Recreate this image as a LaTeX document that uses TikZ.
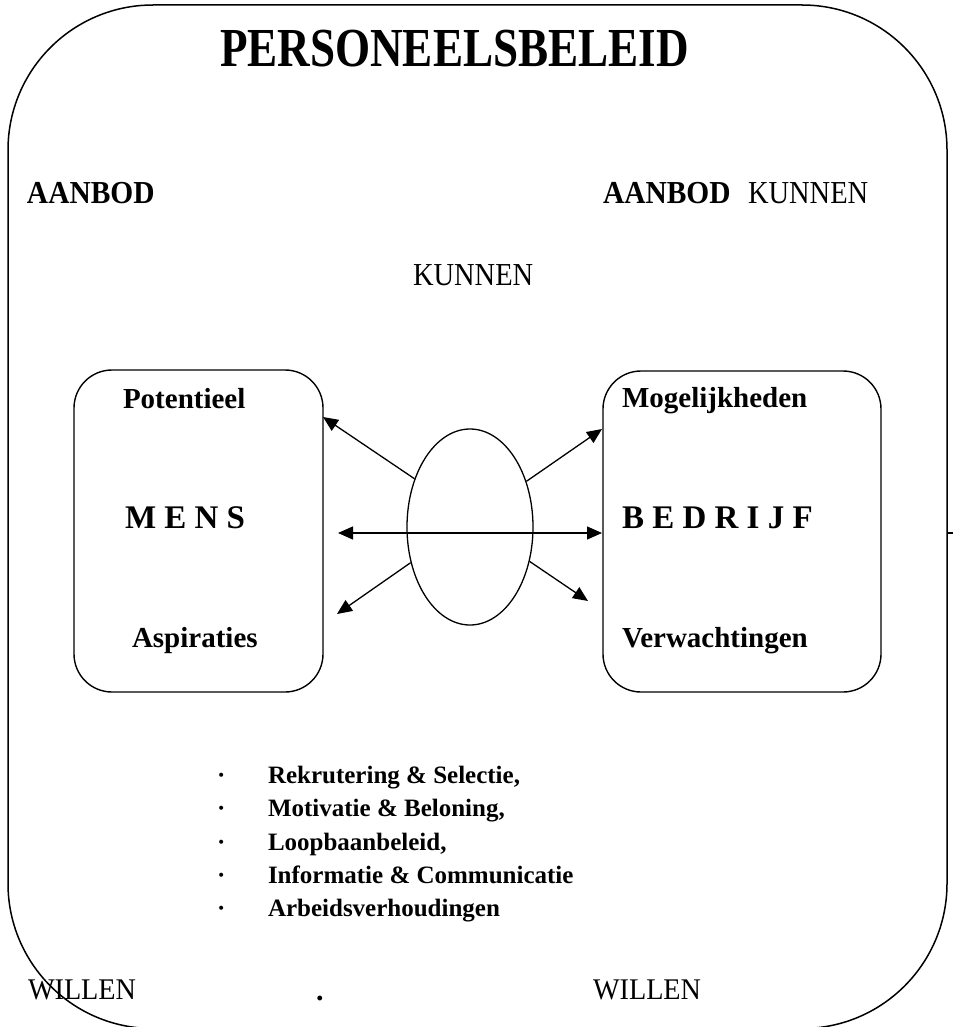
\documentclass[tikz,border=0pt]{standalone}
\usepackage{fontspec}
\setmainfont{Liberation Serif}
\usetikzlibrary{shapes.geometric,arrows.meta}
\newcommand{\fsz}[1]{\fontsize{#1}{#1}\selectfont}
\newcommand{\sx}[2]{\scalebox{#1}[1]{#2}}
\tikzset{
  lbl/.style={inner sep=0pt, outer sep=0pt, anchor=base west},
  box/.style={draw, line width=1.4pt, rounded corners=38pt, inner sep=0pt, rectangle},
  frame/.style={draw, line width=1.5pt, rounded corners=145pt, inner sep=0pt, rectangle},
  arr/.style={line width=1.3pt, -{Triangle[length=15pt,width=13pt]}},
  darr/.style={line width=1.3pt, {Triangle[length=15pt,width=13pt]}-{Triangle[length=15pt,width=13pt]}},
  bigb/.style={lbl, font=\bfseries\fsz{29}},
  huge/.style={lbl, font=\bfseries\fsz{33}},
  itm/.style={lbl, font=\bfseries\fsz{25}},
}
\begin{document}
\begin{tikzpicture}[x=1pt,y=-1pt]
\useasboundingbox (0,0) rectangle (953,1027);
\clip (0,0) rectangle (953,1027);
% outer frame
\node[frame, minimum width=939pt, minimum height=1023.5pt] (outer) at (477.5,516.75) {};
\coordinate (tk) at (953,533);
\draw[line width=1.5pt] (outer.east |- tk) -- (tk);
% title and corner texts
\node[lbl, font=\bfseries\fsz{55}] (title) at (220,67) {\sx{0.82}{PERSONEELSBELEID}};
\node[lbl, font=\bfseries\fsz{32}] (aanL) at (27,204) {\sx{0.92}{AANBOD}};
\node[lbl, font=\bfseries\fsz{32}] (aanR) at (603,204) {\sx{0.92}{AANBOD}};
\node[lbl, font=\fsz{32}] (kunR) at (748,204) {\sx{0.89}{KUNNEN}};
\node[lbl, font=\fsz{32}] (kunC) at (413,285) {\sx{0.89}{KUNNEN}};
\node[lbl, font=\fsz{30}] (wilL) at (28,999) {\sx{0.94}{WILLEN}};
\node[lbl, font=\fsz{30}] (wilR) at (593,999) {\sx{0.94}{WILLEN}};
\node[lbl, font=\bfseries\fsz{30}] (dot) at (316,1000) {.};
% boxes
\node[box, minimum width=249pt, minimum height=322pt] (mens) at (198.5,531) {};
\node[box, minimum width=278pt, minimum height=321pt] (bedr) at (742,531.5) {};
\node[bigb] (pot) at (123,408) {Potentieel};
\node[huge] (mensT) at (125,528) {M E N S};
\node[bigb] (asp) at (132,647) {Aspiraties};
\node[bigb] (mog) at (622,407) {Mogelijkheden};
\node[huge] (bedrT) at (622,528) {B E D R I J F};
\node[bigb] (ver) at (622,647) {Verwachtingen};
% ellipse and arrows
\node[draw, ellipse, line width=1.3pt, minimum width=126pt, minimum height=196pt, inner sep=0pt] (ell) at (470,527) {};
\coordinate (eUL) at (323,417);
\coordinate (eUR) at (602,429);
\coordinate (eLL) at (337,614);
\coordinate (eLR) at (588,601);
\coordinate (hL) at (338,533);
\coordinate (hR) at (602,533);
\draw[arr] (ell.139) -- (eUL);
\draw[arr] (ell.39) -- (eUR);
\draw[arr] (ell.211) -- (eLL);
\draw[arr] (ell.330) -- (eLR);
\draw[darr] (hL) -- (hR);
% bullet list
\node[itm] (b1) at (217,783) {·};
\node[itm] (i1) at (268,783) {Rekrutering \& Selectie,};
\node[itm] (b2) at (217,816.5) {·};
\node[itm] (i2) at (268,816.5) {Motivatie \& Beloning,};
\node[itm] (b3) at (217,850) {·};
\node[itm] (i3) at (268,850) {Loopbaanbeleid,};
\node[itm] (b4) at (217,883) {·};
\node[itm] (i4) at (268,883) {Informatie \& Communicatie};
\node[itm] (b5) at (217,916) {·};
\node[itm] (i5) at (268,916) {Arbeidsverhoudingen};
\end{tikzpicture}
\end{document}
